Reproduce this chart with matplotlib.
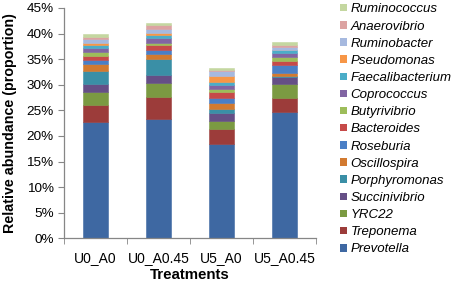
import matplotlib
matplotlib.use("Agg")
import matplotlib.pyplot as plt
from matplotlib.patches import Patch
from matplotlib.ticker import FuncFormatter, MultipleLocator, FixedLocator, NullFormatter

plt.rcParams['font.family'] = ['Liberation Sans', 'DejaVu Sans']

treatments = ["U0_A0", "U0_A0.45", "U5_A0", "U5_A0.45"]
genera = ["Prevotella", "Treponema", "YRC22", "Succinivibrio", "Porphyromonas",
          "Oscillospira", "Roseburia", "Bacteroides", "Butyrivibrio", "Coprococcus",
          "Faecalibacterium", "Pseudomonas", "Ruminobacter", "Anaerovibrio", "Ruminococcus"]

# values in percent, one list per genus (order of treatments)
prevotella       = [22.7, 23.4, 18.4, 24.7]
treponema        = [3.4, 4.3, 2.9, 2.8]
yrc22            = [2.4, 2.6, 1.6, 2.7]
succinivibrio    = [1.7, 1.6, 1.6, 1.3]
porphyromonas    = [2.4, 3.1, 0.8, 0.2]
oscillospira     = [1.4, 1.0, 1.1, 0.6]
roseburia        = [0.8, 0.7, 1.1, 1.6]
bacteroides      = [0.8, 1.0, 1.0, 0.8]
butyrivibrio     = [0.8, 0.5, 0.7, 0.8]
coprococcus      = [0.8, 0.9, 0.7, 0.8]
faecalibacterium = [0.5, 0.6, 0.6, 0.4]
pseudomonas      = [0.5, 0.5, 1.3, 0.1]
ruminobacter     = [0.7, 0.6, 0.8, 0.6]
anaerovibrio     = [0.4, 0.8, 0.3, 0.4]
ruminococcus     = [0.6, 0.5, 0.4, 0.6]

series = [prevotella, treponema, yrc22, succinivibrio, porphyromonas, oscillospira,
          roseburia, bacteroides, butyrivibrio, coprococcus, faecalibacterium,
          pseudomonas, ruminobacter, anaerovibrio, ruminococcus]

colors = ["#3E68A2", "#9C3C3A", "#7B9A42", "#654F86", "#3A8FA6", "#D27A30",
          "#4A7FC6", "#C64A49", "#9DBD5A", "#8165A3", "#4BADC8", "#F79646",
          "#A6B9DF", "#DCA3A2", "#C4D7A0"]

fig = plt.figure(figsize=(4.54, 2.82), dpi=100)
ax = fig.add_axes([64/454, 1 - 238.3/282, (316-64)/454, (238.3-8)/282])

x = list(range(len(treatments)))
bottom = [0.0] * len(treatments)
handles = []
for name, vals, col in zip(genera, series, colors):
    ax.bar(x, [v / 100 for v in vals], bottom=bottom, width=0.39, color=col,
           edgecolor=col, linewidth=0.4)
    bottom = [b + v / 100 for b, v in zip(bottom, vals)]
    handles.append(Patch(facecolor=col, edgecolor='none', label=name))

ax.set_xlim(-0.5, 3.5)
ax.set_ylim(0, 0.45)
ax.yaxis.set_major_locator(MultipleLocator(0.05))
ax.yaxis.set_major_formatter(FuncFormatter(lambda v, p: f"{v*100:.0f}%"))
ax.set_xticks(x)
ax.set_xticklabels(treatments)
ax.xaxis.set_minor_locator(FixedLocator([-0.5, 0.5, 1.5, 2.5, 3.5]))
ax.xaxis.set_minor_formatter(NullFormatter())
ax.tick_params(axis='x', which='major', length=0, labelsize=10, pad=9)
ax.tick_params(axis='x', which='minor', length=4, color='#868686', direction='out')
ax.tick_params(axis='y', length=4, color='#868686', labelsize=9.7, pad=3.5)

for s in ['top', 'right']:
    ax.spines[s].set_visible(False)
for s in ['left', 'bottom']:
    ax.spines[s].set_color('#868686')
    ax.spines[s].set_linewidth(0.9)

ax.set_ylabel("Relative abundance (proportion)", fontsize=10.3, fontweight='bold', labelpad=7)
ax.set_xlabel("Treatments", fontsize=10.8, fontweight='bold', labelpad=2)

leg = fig.legend(handles=handles[::-1], loc='upper left',
                 bbox_to_anchor=(340/454, 0.988), frameon=False,
                 prop={'style': 'italic', 'size': 9.5},
                 handlelength=0.5, handleheight=0.5, handletextpad=0.3,
                 labelspacing=0.39, borderaxespad=0.0, borderpad=0.0)

fig.savefig("out.png", dpi=100)
